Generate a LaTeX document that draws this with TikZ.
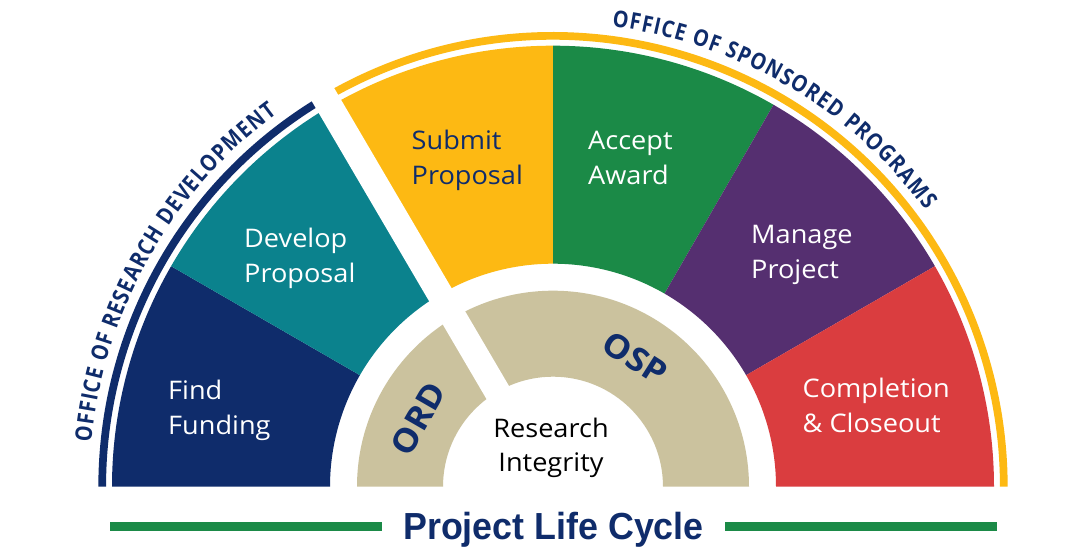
\documentclass[tikz,border=0pt]{standalone}
\usepackage{fontspec}
\usetikzlibrary{decorations.text,calc}
\newfontfamily\labelfont[FakeStretch=1.06]{Open Sans}
\newfontfamily\officefont[FakeStretch=0.86]{Open Sans}
\newfontfamily\titlefont[FakeStretch=0.95]{Liberation Sans}
\definecolor{cnavy}{HTML}{0F2C6B}
\definecolor{cteal}{HTML}{0B828D}
\definecolor{cyellow}{HTML}{FDB913}
\definecolor{cgreen}{HTML}{1B8A47}
\definecolor{cpurple}{HTML}{552F70}
\definecolor{cred}{HTML}{DA3D3F}
\definecolor{cbeige}{HTML}{CBC29E}
\tikzset{
  lbl/.style={font=\labelfont\fontsize{25.6}{35}\selectfont, inner sep=0pt, anchor=base west, align=left},
  ringlbl/.style={font=\labelfont\bfseries\fontsize{33}{33}\selectfont, text=cnavy, inner sep=0pt, anchor=center},
  band/.style={line width=7.7pt},
  greenline/.style={cgreen, line width=8.4pt}
}
\begin{document}
\begin{tikzpicture}[x=1pt,y=1pt]
\useasboundingbox (0,0) rectangle (1080,556);
\fill[white] (0,0) rectangle (1080,556);
\coordinate (C) at (553,69.3);
\def\Ro{441}\def\Ri{223}
% six stage wedges
\foreach \a/\col in {150/cnavy,120/cteal,90/cyellow,60/cgreen,30/cpurple,0/cred}{
  \fill[\col] ([shift={(\a:\Ri)}]C) -- ([shift={(\a:\Ro)}]C)
     arc[start angle=\a, end angle=\a+30, radius=\Ro]
     -- ([shift={(\a+30:\Ri)}]C)
     arc[start angle=\a+30, end angle=\a, radius=\Ri] -- cycle;
}
% beige ring
\fill[cbeige] ([shift={(0:110)}]C) -- ([shift={(0:196)}]C)
   arc[start angle=0, end angle=180, radius=196]
   -- ([shift={(180:110)}]C)
   arc[start angle=180, end angle=0, radius=110] -- cycle;
% outer office arcs
\draw[band, cnavy] ([shift={(180:450.8)}]C) arc[start angle=180, end angle=120.4, radius=450.8];
\draw[band, cyellow] ([shift={(120.4:450.8)}]C) arc[start angle=120.4, end angle=0, radius=450.8];
% white separating gap
\draw[white, line width=26pt] ([shift={(120.4:100)}]C) -- ([shift={(120.4:478)}]C);
% office texts along the arcs
\path[decorate, decoration={text along path, text align=fit to path,
  text={|\officefont\bfseries\fontsize{23}{23}\selectfont\color{cnavy}|OFFICE OF RESEARCH DEVELOPMENT}}]
  ([shift={(174.5:464)}]C) arc[start angle=174.5, end angle=126.5, radius=464];
\path[decorate, decoration={text along path, text align=fit to path,
  text={|\officefont\bfseries\fontsize{23}{23}\selectfont\color{cnavy}|OFFICE OF SPONSORED PROGRAMS}}]
  ([shift={(82.7:464)}]C) arc[start angle=82.7, end angle=36.6, radius=464];
% stage labels (anchored at the baseline of the last line)
\node[lbl, text=white] (find) at (168,121) {Find\\Funding};
\node[lbl, text=white] (develop) at (244,273.7) {Develop\\Proposal};
\node[lbl, text=cnavy] (submit) at (411.5,371) {Submit\\Proposal};
\node[lbl, text=white] (accept) at (588,371) {Accept\\Award};
\node[lbl, text=white] (manage) at (751,277.7) {Manage\\Project};
\node[lbl, text=white] (complete) at (802.5,123.3) {Completion\\\& Closeout};
\node[lbl, text=black, anchor=base, align=center, font=\labelfont\fontsize{25.6}{34}\selectfont] (integrity) at (551,84.3) {Research\\Integrity};
\node[ringlbl, rotate=60] (ord) at ([shift={(153.3:151)}]C) {ORD};
\node[ringlbl, rotate=-32.5] (osp) at ([shift={(57.5:152.6)}]C) {OSP};
% title
\node[font=\titlefont\bfseries\fontsize{37.7}{40}\selectfont, text=cnavy, inner sep=0pt, anchor=base] (title) at (553.5,16.7) {Project Life Cycle};
\coordinate (l1) at (110,29.5);
\coordinate (l2) at (382.3,29.5);
\coordinate (r1) at (725,29.5);
\coordinate (r2) at (997,29.5);
\draw[greenline] (l1) -- (l2);
\draw[greenline] (r1) -- (r2);
\end{tikzpicture}
\end{document}
